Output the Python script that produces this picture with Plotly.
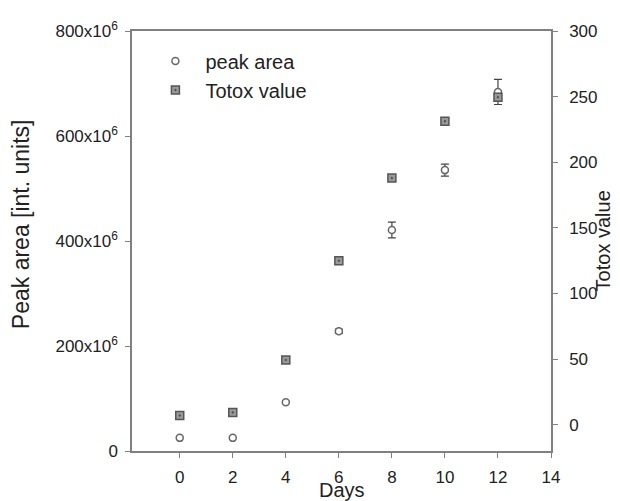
import plotly.graph_objects as go

days = [0, 2, 4, 6, 8, 10, 12]
peak_area = [25e6, 25e6, 93e6, 228e6, 421e6, 535e6, 684e6]
peak_area_err = [0, 0, 0, 4e6, 15e6, 11.5e6, 24e6]
totox = [7, 9.4, 49.3, 125, 188, 231.3, 249.6]

left_tickvals = [0, 200e6, 400e6, 600e6, 800e6]
left_ticktext = ["0", "200x10<sup>6</sup>", "400x10<sup>6</sup>", "600x10<sup>6</sup>", "800x10<sup>6</sup>"]
right_tickvals = [0, 50, 100, 150, 200, 250, 300]
x_tickvals = [0, 2, 4, 6, 8, 10, 12, 14]

x_title = "Days"
y_title = "Peak area [int. units]"
y2_title = "Totox value"

axis_col = "#808080"
font_family = "Liberation Sans, Arial, sans-serif"

# error bars only where an error was read
ex = [d for d, e in zip(days, peak_area_err) if e > 0]
ey = [v for v, e in zip(peak_area, peak_area_err) if e > 0]
ee = [e for e in peak_area_err if e > 0]

fig = go.Figure()
fig.add_trace(go.Scatter(
    x=ex, y=ey, mode="markers", showlegend=False, hoverinfo="skip",
    marker=dict(size=1, color="rgba(0,0,0,0)"),
    error_y=dict(type="data", array=ee, visible=True, color="#444444", thickness=1.2, width=4),
    yaxis="y",
))
fig.add_trace(go.Scatter(
    x=days, y=peak_area, mode="markers", name="peak area",
    marker=dict(symbol="circle", size=7, color="white", line=dict(width=1.5, color="#666666")),
    yaxis="y",
))
fig.add_trace(go.Scatter(
    x=days, y=totox, mode="markers", name="Totox value",
    marker=dict(symbol="square-dot", size=8, color="#9a9a9a", line=dict(width=1.5, color="#555555")),
    yaxis="y2",
))

fig.update_layout(
    width=620, height=501,
    margin=dict(l=124, r=77, t=23, b=58),
    paper_bgcolor="white", plot_bgcolor="white",
    font=dict(family=font_family, size=17, color="#222222"),
    showlegend=True,
    legend=dict(x=0.032, y=0.975, xanchor="left", yanchor="top", bgcolor="rgba(0,0,0,0)",
                font=dict(size=20), itemwidth=50, tracegroupgap=0),
    xaxis=dict(range=[-1.8, 14], tickvals=x_tickvals, ticks="outside", ticklen=5, tickcolor=axis_col,
               showline=True, linecolor=axis_col, linewidth=1.5, mirror=True, showgrid=False, zeroline=False,
               ticklabelstandoff=5, automargin=False, tickfont=dict(size=17)),
    yaxis=dict(range=[0, 800e6], tickvals=left_tickvals, ticktext=left_ticktext, ticks="outside", ticklen=5,
               tickcolor=axis_col, showline=True, linecolor=axis_col, linewidth=1.5, showgrid=False, zeroline=False,
               ticklabelstandoff=4, automargin=False, tickfont=dict(size=17)),
    yaxis2=dict(range=[-20, 300], tickvals=right_tickvals, overlaying="y", side="right", ticks="outside", ticklen=5,
                tickcolor=axis_col, showline=True, linecolor=axis_col, linewidth=1.5, showgrid=False, zeroline=False,
                ticklabelstandoff=8, automargin=False, tickfont=dict(size=17)),
)

# axis titles placed as annotations (paper coordinates relative to the plot area)
fig.add_annotation(text=x_title, xref="paper", yref="paper", x=0.502, y=-0.094,
                   xanchor="center", yanchor="middle", showarrow=False, font=dict(size=20))
fig.add_annotation(text=y_title, xref="paper", yref="paper", x=-0.265, y=0.54, textangle=-90,
                   xanchor="center", yanchor="middle", showarrow=False, font=dict(size=23))
fig.add_annotation(text=y2_title, xref="paper", yref="paper", x=1.125, y=0.5, textangle=-90,
                   xanchor="center", yanchor="middle", showarrow=False, font=dict(size=20))

fig.write_html("out.html")
